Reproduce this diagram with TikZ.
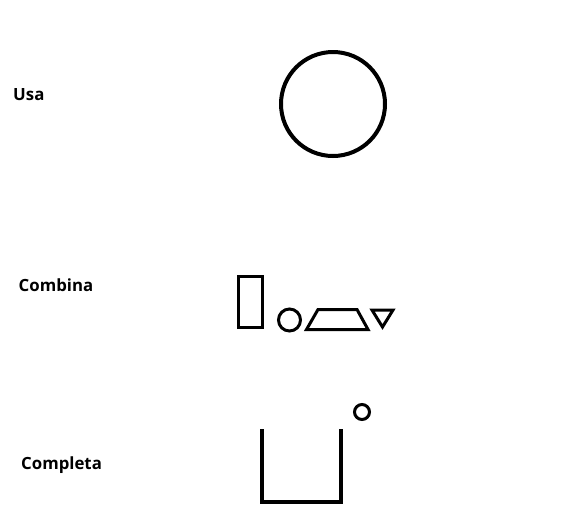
\documentclass[tikz,border=0pt]{standalone}
\usepackage{fontspec}
\newfontfamily\lblfont{Open Sans}
\begin{document}
\begin{tikzpicture}[x=1pt,y=-1pt,
  lbl/.style={anchor=base west,inner sep=0pt,font=\lblfont\bfseries\fontsize{16.8}{18}\selectfont},
  shp/.style={draw=black,line width=3pt,line join=miter}]
\useasboundingbox (0,0) rectangle (569,504);
% labels
\node[lbl] (usa) at (13,100.5) {Usa};
\node[lbl] (combina) at (18.5,291) {Combina};
\node[lbl] (completa) at (21,469) {Completa};
% Usa: big circle
\draw[shp,line width=4pt] (333,104) circle (52);
% Combina: parts
\draw[shp] (238.5,276.5) rectangle (262.5,327.5);
\draw[shp] (289.5,320) circle (11);
\draw[shp] (306.5,329.5) -- (318,309.5) -- (357,309.5) -- (368,329.5) -- cycle;
\draw[shp] (372,310) -- (393,310) -- (382.5,327) -- cycle;
% Completa
\draw[shp] (362,412) circle (7.5);
\draw[shp,line width=4pt] (262,429) -- (262,502) -- (340.5,502) -- (340.5,429);
\end{tikzpicture}
\end{document}
